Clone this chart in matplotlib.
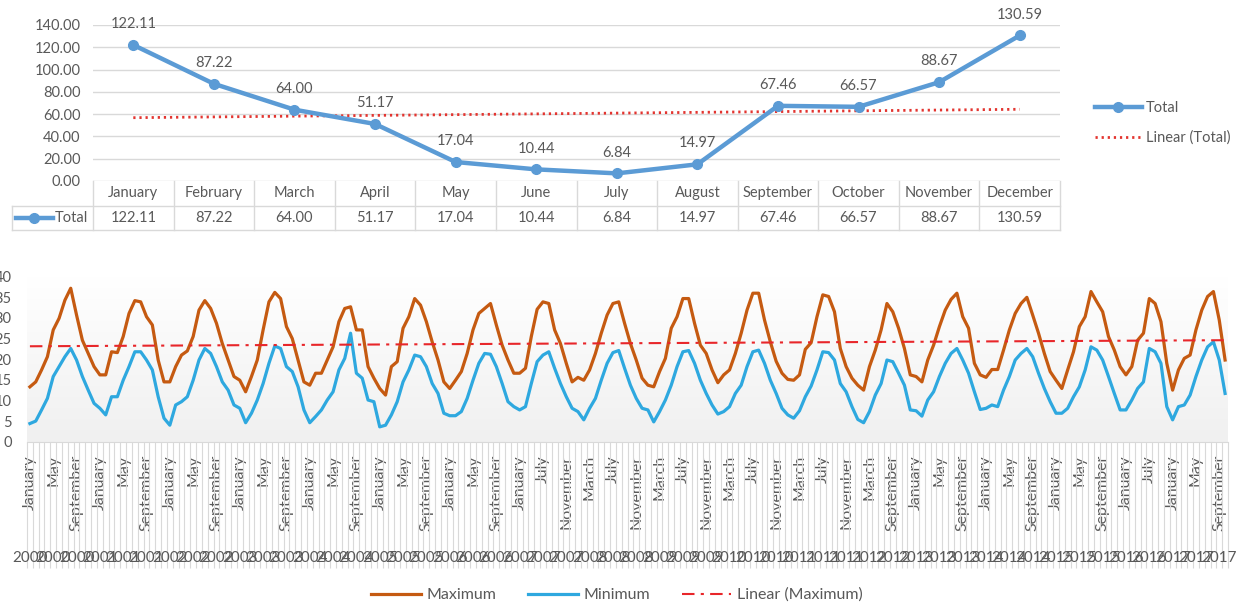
import numpy as np
import matplotlib.pyplot as plt
import matplotlib.transforms as mtransforms
from matplotlib.colors import LinearSegmentedColormap

plt.rcParams['font.family'] = ['Lato', 'DejaVu Sans']

GREY = '#595959'
LINE = '#d9d9d9'

# --- monthly totals ---
months = ['January', 'February', 'March', 'April', 'May', 'June', 'July',
          'August', 'September', 'October', 'November', 'December']
total = [122.11, 87.22, 64.00, 51.17, 17.04, 10.44, 6.84, 14.97,
         67.46, 66.57, 88.67, 130.59]

# --- monthly max / min temperatures, Jan 2000 - Oct 2017 ---
first_year, last_year, last_month = 2000, 2017, 10
missing = [(2007, 3), (2007, 4), (2012, 6), (2012, 8),
           (2016, 3), (2016, 5), (2016, 10), (2016, 11)]

max_temp = [
    13.3, 14.5, 17.4, 20.6, 27.1, 29.9, 34.3, 37.2, 30.7, 24.6, 21.4, 18.2,
    16.2, 16.2, 21.8, 21.6, 25.5, 31.1, 34.2, 33.9, 30.3, 28.3, 19.8, 14.5,
    14.5, 18.2, 21.0, 22.0, 25.5, 31.9, 34.2, 32.3, 28.7, 23.8, 19.8, 15.8,
    14.9, 12.1, 15.8, 19.8, 27.1, 33.9, 36.2, 34.7, 27.9, 25.0, 19.8, 14.5,
    13.7, 16.6, 16.6, 19.8, 23.0, 29.1, 32.3, 32.7, 27.1, 27.1, 18.2, 15.4,
    12.9, 11.3, 18.2, 19.4, 27.5, 30.3, 34.7, 33.1, 29.1, 24.2, 19.8, 14.5,
    12.9, 14.9, 17.0, 21.4, 27.1, 31.1, 32.3, 33.5, 28.3, 23.4, 19.8, 16.6,
    16.6, 17.8, 25.5, 32.1, 33.9, 33.5, 27.1, 23.8, 19.0, 14.5,
    15.6, 14.9, 17.4, 21.4, 26.3, 30.7, 33.5, 33.9, 28.7, 23.8, 19.8, 15.4,
    13.7, 13.3, 17.0, 20.2, 27.5, 30.3, 34.7, 34.7, 28.7, 23.4, 21.4, 17.4,
    14.3, 16.2, 17.4, 21.4, 26.3, 31.9, 36.0, 36.0, 29.5, 24.2, 19.5, 16.6,
    15.1, 14.9, 16.2, 22.4, 24.0, 30.3, 35.6, 35.2, 31.5, 22.6, 18.2, 15.4,
    13.7, 12.5, 18.2, 22.2, 27.1, 33.5, 31.5, 27.5, 22.6, 16.2,
    15.8, 14.5, 19.8, 23.4, 27.9, 31.9, 34.5, 36.0, 30.3, 27.5, 19.0, 16.2,
    15.6, 17.5, 17.5, 22.2, 27.1, 31.1, 33.5, 35.0, 30.7, 26.3, 21.4, 17.0,
    14.9, 12.9, 17.4, 21.8, 27.9, 30.3, 36.4, 33.9, 31.5, 25.5, 22.2, 18.2,
    16.2, 18.2, 24.6, 26.3, 34.7, 33.5, 29.1, 19.0,
    12.5, 17.4, 20.2, 21.0, 27.1, 31.9, 35.2, 36.4, 29.5, 19.8,
]
min_temp = [
    4.4, 5.0, 7.7, 10.5, 15.8, 18.2, 20.6, 22.6, 19.8, 15.8, 12.5, 9.3,
    8.1, 6.5, 10.9, 10.9, 14.9, 18.2, 21.8, 21.8, 19.8, 17.4, 10.9, 5.7,
    4.0, 8.9, 9.7, 10.9, 14.9, 19.8, 22.6, 21.4, 18.2, 14.5, 12.5, 8.9,
    8.1, 4.6, 6.9, 10.1, 14.1, 19.0, 23.2, 22.6, 18.2, 17.0, 13.3, 7.7,
    4.6, 6.1, 7.7, 10.1, 12.1, 17.4, 20.2, 26.3, 16.6, 15.4, 10.1, 9.7,
    3.6, 4.0, 6.5, 9.7, 14.5, 17.4, 21.0, 20.6, 18.2, 14.1, 11.7, 6.9,
    6.3, 6.3, 7.3, 10.5, 14.9, 19.0, 21.4, 21.2, 18.2, 14.1, 9.7, 8.5,
    7.7, 8.5, 14.1, 19.4, 21.0, 21.8, 17.8, 14.1, 10.9, 8.1,
    7.3, 5.3, 8.1, 10.5, 14.9, 19.0, 21.6, 22.1, 17.8, 13.7, 10.5, 8.1,
    7.7, 4.8, 7.3, 10.1, 13.7, 18.2, 21.8, 22.1, 19.0, 14.9, 11.7, 8.9,
    6.7, 7.3, 8.5, 11.7, 13.7, 18.2, 21.8, 22.2, 19.0, 14.9, 11.7, 8.1,
    6.5, 5.7, 7.5, 10.9, 13.5, 17.4, 21.8, 21.6, 19.8, 14.1, 12.1, 8.5,
    5.4, 4.6, 7.3, 11.3, 14.1, 19.8, 19.4, 16.6, 13.7, 7.7,
    7.5, 6.2, 10.1, 12.1, 15.8, 19.0, 21.4, 22.6, 19.8, 16.6, 12.1, 7.8,
    8.1, 8.9, 8.5, 12.5, 15.8, 19.8, 21.4, 22.6, 20.6, 16.6, 12.9, 9.7,
    6.9, 6.9, 8.1, 10.9, 13.3, 17.4, 23.0, 22.2, 19.8, 15.8, 11.7, 7.7,
    7.7, 10.1, 12.9, 14.5, 22.6, 21.8, 19.0, 8.5,
    5.3, 8.5, 8.9, 11.3, 15.8, 19.8, 23.0, 24.2, 19.8, 11.7,
]

cat_year = []
cat_month = []
for y in range(first_year, last_year + 1):
    for m in range(1, 13):
        if (y == last_year and m > last_month) or (y, m) in missing:
            continue
        cat_year.append(str(y))
        cat_month.append(months[m - 1])

W, H = 1236, 608


def box(left, top, right, bottom):
    return [left / W, 1 - bottom / H, (right - left) / W, (bottom - top) / H]


fig = plt.figure(figsize=(W / 100, H / 100), dpi=100)

# ---------- top chart: line with data table ----------
ax1 = fig.add_axes(box(93, 25, 1060, 181))
x = np.arange(len(months))
line, = ax1.plot(x, total, color='#5b9bd5', lw=3.2, marker='o', ms=7,
                 zorder=3, label='Total')
k, b = np.polyfit(x, total, 1)
trend, = ax1.plot(x, k * x + b, color='#e3342f', lw=2, ls=(0, (0.8, 1.4)),
                  zorder=2, label='Linear (Total)')
for xi, v in zip(x, total):
    ax1.annotate(f'{v:.2f}', (xi, v), xytext=(0, 15), textcoords='offset points',
                 ha='center', va='center', fontsize=10.5, color=GREY)

ax1.set_xlim(-0.5, 11.5)
ax1.set_ylim(0, 140)
ax1.set_yticks(np.arange(0, 141, 20))
ax1.set_yticklabels([f'{v:.2f}' for v in np.arange(0, 141, 20)])
ax1.set_xticks([])
ax1.grid(axis='y', color=LINE, lw=1)
ax1.set_axisbelow(True)
for s in ax1.spines.values():
    s.set_visible(False)
ax1.tick_params(axis='y', length=0, pad=9, labelcolor=GREY, labelsize=10.5)

tr = mtransforms.blended_transform_factory(ax1.transData, ax1.transAxes)
row = 24.5 / 156
for c in range(13):
    ax1.plot([c - 0.5, c - 0.5], [0, -2 * row], transform=tr, clip_on=False,
             color=LINE, lw=1)
ax1.plot([-1.5, -1.5], [-row, -2 * row], transform=tr, clip_on=False, color=LINE, lw=1)
for yy in (-row, -2 * row):
    ax1.plot([-1.5, 11.5], [yy, yy], transform=tr, clip_on=False, color=LINE, lw=1)
for c, (mname, v) in enumerate(zip(months, total)):
    ax1.text(c, -0.5 * row, mname, transform=tr, ha='center', va='center',
             fontsize=10.5, color=GREY)
    ax1.text(c, -1.5 * row, f'{v:.2f}', transform=tr, ha='center', va='center',
             fontsize=10.5, color=GREY)
ax1.plot([-1.46, -1.23, -1.0], [-1.5 * row] * 3, transform=tr, clip_on=False,
         color='#5b9bd5', lw=3.2, marker='o', ms=7, markevery=[1])
ax1.text(-0.97, -1.5 * row, 'Total', transform=tr, ha='left', va='center',
         fontsize=10.5, color=GREY)

ax1.legend(handles=[line, trend], loc='center left',
           bbox_to_anchor=(1082 / W, 1 - 123 / H), bbox_transform=fig.transFigure,
           frameon=False, fontsize=10.5, handlelength=3.2, handletextpad=0.3,
           labelspacing=1.05, labelcolor=GREY)

# ---------- bottom chart: monthly max / min ----------
ax2 = fig.add_axes(box(27, 276.7, 1228, 441.7))
n = len(max_temp)
idx = np.arange(n)

fade = LinearSegmentedColormap.from_list('fade', ['#ffffff', '#f0f0f0'])
ax2.imshow(np.linspace(0, 1, 100).reshape(-1, 1), cmap=fade, aspect='auto',
           extent=[-0.5, n - 0.5, 0, 40], origin='upper', zorder=0)

l_max, = ax2.plot(idx, max_temp, color='#c55a11', lw=2.3, label='Maximum', zorder=3)
l_min, = ax2.plot(idx, min_temp, color='#2ea8df', lw=2.3, label='Minimum', zorder=3)
k2, b2 = np.polyfit(idx, max_temp, 1)
l_tr, = ax2.plot(idx, k2 * idx + b2, color='#e8262a', lw=1.5,
                 ls=(0, (6, 3, 1.5, 3)), label='Linear (Maximum)', zorder=4)

ax2.set_xlim(-0.5, n - 0.5)
ax2.set_ylim(0, 40)
ax2.set_yticks(np.arange(0, 41, 5))
for s in ('top', 'right', 'left'):
    ax2.spines[s].set_visible(False)
ax2.spines['bottom'].set_color(LINE)
ax2.tick_params(axis='y', length=0, pad=11, labelcolor=GREY, labelsize=10.5)

shown = idx[::4]
ax2.set_xticks(shown)
ax2.set_xticklabels([cat_month[i] for i in shown], rotation=90, va='top',
                    ha='center', fontsize=11.5, color=GREY)
ax2.tick_params(axis='x', length=0, pad=9.5)

tr2 = mtransforms.blended_transform_factory(ax2.transData, ax2.transAxes)
ax2.vlines(np.arange(n + 1) - 0.5, -126 / 165, 0, transform=tr2, clip_on=False,
           color=LINE, lw=0.8)
for i in shown:
    ax2.text(i, -116 / 165, cat_year[i], transform=tr2, ha='center', va='center',
             fontsize=11, color=GREY)

fig.legend(handles=[l_max, l_min, l_tr], loc='center',
           bbox_to_anchor=(617 / W, 1 - 595 / H), ncol=3, frameon=False,
           fontsize=11.5, handlelength=3.1, handletextpad=0.35, columnspacing=2.0,
           labelcolor=GREY)

fig.savefig('out.png', dpi=100)
